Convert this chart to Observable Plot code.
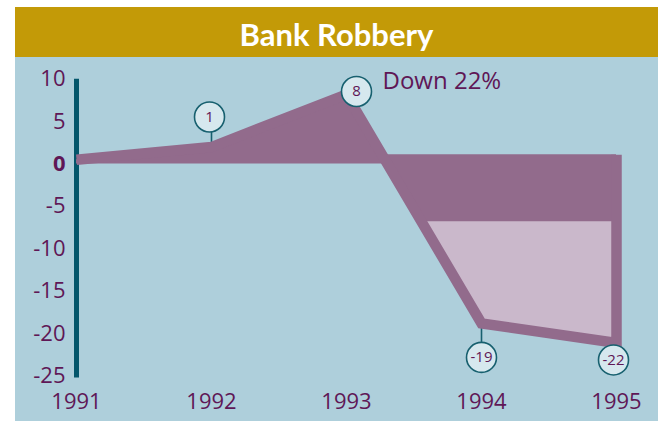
<!DOCTYPE html>
<html><head><meta charset="utf-8">
<script src="https://cdn.jsdelivr.net/npm/d3@7"></script>
<script src="https://cdn.jsdelivr.net/npm/@observablehq/plot@0.6"></script>
<style>
html,body{margin:0;padding:0;background:#fff;}
#panel{position:absolute;left:15px;top:7px;width:643px;height:414px;background:#aecfdb;overflow:hidden;}
#title{height:46px;padding-top:4px;background:#c39a07;color:#fff;font:bold 31px Lato, sans-serif;display:flex;align-items:center;justify-content:center;}
#chart svg{display:block;}
</style></head><body>
<div id="panel"><div id="title">Bank Robbery</div><div id="chart"></div></div>
<script>
// ---- data ----
const years = [1991, 1992, 1993, 1994, 1995];
const labelValues = [0, 1, 8, -19, -22];          // values printed in the bubbles
const drawnValues = [0.5, 2.0, 8.2, -18.8, -21.1]; // where the drawn band runs
const yTicks = [10, 5, -5, -10, -15, -20, -25];
const zeroTick = [0];
const xTicks = [1991, 1992, 1993, 1994, 1995];
const annotation = ["Down 22%"];
const fillLevels = [1.1, -6.8]; // top of dark fill below zero, top of light fill

// ---- layout / style ----
const DARK = "#926b8c", LIGHT = "#cab8cb", TEXT = "#5f1756", TEAL = "#03566b";
const bubbleFill = "#d6e8ee", bubbleStroke = "#17606f";
const bubbleOffsets = [null, {dx: -2, dy: -30, lead: "up"}, {dx: 10, dy: -3}, {dx: 0, dy: 34, lead: "down"}, {dx: -3, dy: 17}];

const pts = years.map((x, i) => ({x, y: drawnValues[i]}));
function crossing(level) {
  for (let i = 0; i < pts.length - 1; i++) {
    const a = pts[i], b = pts[i + 1];
    if ((a.y - level) * (b.y - level) <= 0 && a.y !== b.y && a.y > level) {
      const t = (a.y - level) / (a.y - b.y);
      return {x: a.x + t * (b.x - a.x), y: level, i};
    }
  }
}
const c0 = crossing(0);
const posArea = [...pts.slice(0, c0.i + 1), c0];
const cTop = crossing(fillLevels[0]);
const negArea = [cTop, ...pts.slice(cTop.i + 1)];
const cLight = crossing(fillLevels[1]);
const lightArea = [cLight, ...pts.slice(cLight.i + 1)];
const path = [...pts, {x: years[years.length - 1], y: fillLevels[0]}];

const bubbles = years.map((x, i) => ({x, y: drawnValues[i], label: String(labelValues[i]), o: bubbleOffsets[i]})).filter(d => d.o);
const leadUp = bubbles.filter(d => d.o.lead === "up");
const leadDown = bubbles.filter(d => d.o.lead === "down");

const marks = [
  Plot.ruleX([years[0]], {y1: 10, y2: -25, stroke: TEAL, strokeWidth: 5, insetBottom: -2, strokeLinecap: "butt"}),
  Plot.ruleX(leadUp, {x: "x", y1: "y", y2: "y", insetTop: -15, stroke: bubbleStroke, strokeWidth: 1.6}),
  Plot.ruleX(leadDown, {x: "x", y1: "y", y2: "y", insetBottom: -19, stroke: bubbleStroke, strokeWidth: 1.6}),
  Plot.areaY(posArea, {x: "x", y1: 0, y2: "y", fill: DARK}),
  Plot.areaY(negArea, {x: "x", y1: "y", y2: fillLevels[0], fill: DARK}),
  Plot.areaY(lightArea, {x: "x", y1: "y", y2: fillLevels[1], fill: LIGHT}),
  Plot.line(path, {x: "x", y: "y", stroke: DARK, strokeWidth: 10.5, strokeLinejoin: "miter", strokeLinecap: "butt", strokeMiterlimit: 10}),
  Plot.axisY(yTicks, {tickSize: 0, tickPadding: 11, tickFormat: d => String(d), fontSize: 22, fill: TEXT, label: null}),
  Plot.axisY(zeroTick, {tickSize: 0, tickPadding: 11, tickFormat: d => String(d), fontSize: 22, fontWeight: "bold", fill: TEXT, label: null}),
  Plot.axisX(xTicks, {tickSize: 0, tickPadding: 17, tickFormat: d => String(d), fontSize: 22, fill: TEXT, label: null}),
  Plot.text(annotation, {x: years[2], y: drawnValues[2], text: d => d, dx: 36, dy: -13, textAnchor: "start", fontSize: 24, fill: TEXT}),
];
for (const b of bubbles) {
  marks.push(Plot.dot([b], {x: "x", y: "y", r: 15, dx: b.o.dx, dy: b.o.dy, fill: bubbleFill, stroke: bubbleStroke, strokeWidth: 1.6}));
  marks.push(Plot.text([b], {x: "x", y: "y", text: "label", dx: b.o.dx, dy: b.o.dy, fontSize: 15, fill: TEXT}));
}

const chart = Plot.plot({
  width: 643, height: 364,
  marginLeft: 61, marginRight: 42, marginTop: 21.7, marginBottom: 45.5,
  x: {domain: [1991, 1995]},
  y: {domain: [-25, 10]},
  style: {background: "transparent", fontFamily: "'Open Sans', sans-serif", overflow: "visible"},
  marks
});
document.getElementById("chart").appendChild(chart);
</script>
</body></html>
